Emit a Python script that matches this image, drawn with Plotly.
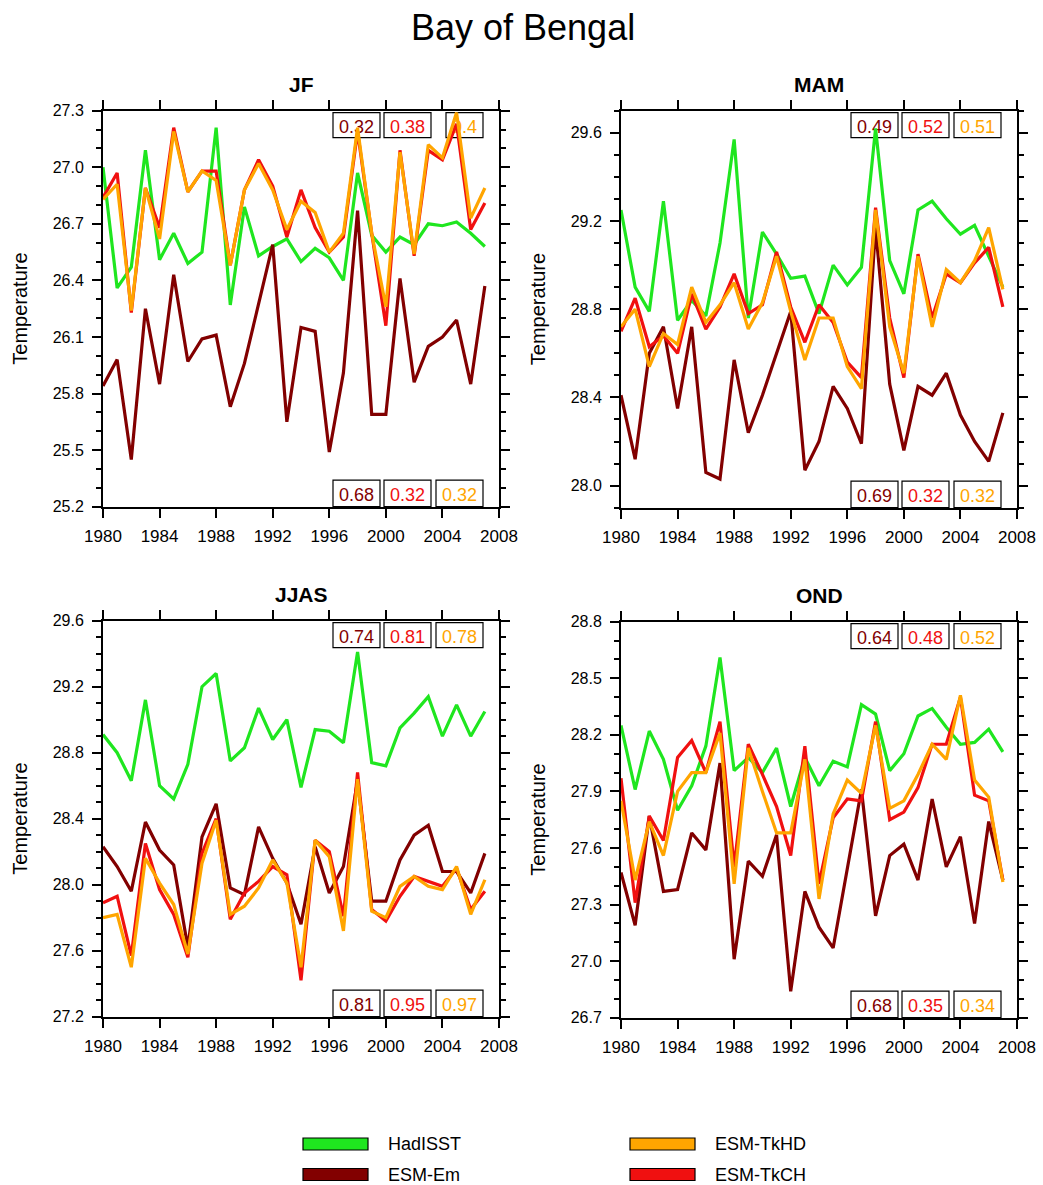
import plotly.graph_objects as go

W, H = 1043, 1185

years = list(range(1980, 2008))
seasons = ["JF", "MAM", "JJAS", "OND"]
series_names = ["HadISST", "ESM-Em", "ESM-TkCH", "ESM-TkHD"]

# ---- JF ----
hadisst_jf = [27.00, 26.36, 26.47, 27.09, 26.51, 26.65, 26.49, 26.55, 27.21, 26.27,
              26.79, 26.53, 26.58, 26.62, 26.50, 26.57, 26.52, 26.40, 26.97, 26.64,
              26.55, 26.63, 26.59, 26.70, 26.69, 26.71, 26.65, 26.58]
em_jf = [25.84, 25.98, 25.45, 26.25, 25.85, 26.43, 25.97, 26.09, 26.11, 25.73,
         25.96, 26.28, 26.59, 25.65, 26.15, 26.13, 25.49, 25.91, 26.77, 25.69,
         25.69, 26.41, 25.86, 26.05, 26.10, 26.19, 25.85, 26.37]
tkch_jf = [26.84, 26.97, 26.23, 26.89, 26.68, 27.21, 26.87, 26.98, 26.98, 26.48,
           26.88, 27.04, 26.90, 26.63, 26.88, 26.68, 26.55, 26.63, 27.19, 26.65,
           26.16, 27.09, 26.53, 27.09, 27.04, 27.23, 26.67, 26.81]
tkhd_jf = [26.83, 26.91, 26.24, 26.89, 26.62, 27.19, 26.87, 26.98, 26.93, 26.48,
           26.88, 27.02, 26.88, 26.67, 26.82, 26.76, 26.55, 26.65, 27.21, 26.65,
           26.26, 27.08, 26.54, 27.12, 27.05, 27.29, 26.73, 26.89]

# ---- MAM ----
hadisst_mam = [29.25, 28.90, 28.79, 29.29, 28.75, 28.84, 28.77, 29.10, 29.57, 28.76,
               29.15, 29.05, 28.94, 28.95, 28.78, 29.00, 28.91, 28.99, 29.62, 29.02,
               28.87, 29.25, 29.29, 29.21, 29.14, 29.18, 29.04, 28.90]
em_mam = [28.41, 28.12, 28.60, 28.72, 28.35, 28.72, 28.06, 28.03, 28.57, 28.24,
          28.41, 28.60, 28.79, 28.07, 28.20, 28.45, 28.35, 28.19, 29.17, 28.46,
          28.16, 28.45, 28.41, 28.51, 28.32, 28.20, 28.11, 28.33]
tkch_mam = [28.70, 28.85, 28.63, 28.68, 28.60, 28.87, 28.71, 28.81, 28.96, 28.78,
            28.82, 29.06, 28.81, 28.65, 28.82, 28.74, 28.56, 28.49, 29.26, 28.76,
            28.49, 29.05, 28.76, 28.96, 28.92, 29.01, 29.08, 28.81]
tkhd_mam = [28.72, 28.80, 28.54, 28.69, 28.64, 28.90, 28.74, 28.82, 28.92, 28.71,
            28.83, 29.04, 28.79, 28.57, 28.76, 28.76, 28.54, 28.44, 29.25, 28.72,
            28.51, 29.04, 28.72, 28.98, 28.92, 29.02, 29.17, 28.89]

# ---- JJAS ----
hadisst_jjas = [28.91, 28.80, 28.63, 29.12, 28.60, 28.52, 28.73, 29.20, 29.28, 28.75,
                28.83, 29.07, 28.88, 29.00, 28.59, 28.94, 28.93, 28.86, 29.41, 28.74,
                28.72, 28.95, 29.04, 29.14, 28.90, 29.09, 28.90, 29.05]
em_jjas = [28.23, 28.11, 27.96, 28.38, 28.21, 28.12, 27.62, 28.29, 28.49, 27.98,
           27.94, 28.35, 28.16, 28.01, 27.76, 28.23, 27.95, 28.11, 28.63, 27.90,
           27.90, 28.15, 28.30, 28.36, 28.08, 28.08, 27.95, 28.19]
tkch_jjas = [27.89, 27.93, 27.57, 28.25, 27.97, 27.82, 27.56, 28.19, 28.40, 27.79,
             27.95, 28.02, 28.11, 28.06, 27.42, 28.27, 28.20, 27.81, 28.68, 27.85,
             27.78, 27.93, 28.05, 28.02, 27.99, 28.10, 27.85, 27.96]
tkhd_jjas = [27.80, 27.82, 27.50, 28.16, 28.01, 27.88, 27.58, 28.13, 28.39, 27.82,
             27.87, 27.98, 28.15, 28.01, 27.50, 28.27, 28.17, 27.72, 28.64, 27.84,
             27.80, 27.99, 28.05, 27.99, 27.97, 28.11, 27.82, 28.03]

# ---- OND ----
hadisst_ond = [28.25, 27.91, 28.22, 28.07, 27.80, 27.93, 28.14, 28.61, 28.01, 28.08,
               28.00, 28.13, 27.82, 28.08, 27.93, 28.06, 28.03, 28.36, 28.31, 28.01,
               28.10, 28.30, 28.34, 28.24, 28.15, 28.16, 28.23, 28.11]
em_ond = [27.47, 27.19, 27.77, 27.37, 27.38, 27.68, 27.59, 28.05, 27.01, 27.53,
          27.45, 27.67, 26.84, 27.37, 27.18, 27.07, 27.49, 27.91, 27.24, 27.56,
          27.62, 27.43, 27.86, 27.50, 27.66, 27.20, 27.74, 27.43]
tkch_ond = [27.97, 27.31, 27.77, 27.64, 28.08, 28.17, 28.00, 28.27, 27.50, 28.15,
            27.99, 27.82, 27.56, 28.14, 27.41, 27.76, 27.86, 27.85, 28.27, 27.75,
            27.79, 27.92, 28.15, 28.15, 28.40, 27.88, 27.85, 27.43]
tkhd_ond = [27.85, 27.43, 27.74, 27.56, 27.90, 28.00, 28.00, 28.21, 27.41, 28.13,
            27.90, 27.68, 27.68, 28.07, 27.33, 27.78, 27.96, 27.89, 28.25, 27.81,
            27.85, 27.99, 28.15, 28.07, 28.41, 27.96, 27.87, 27.42]

# correlation labels (ESM-Em, ESM-TkCH, ESM-TkHD)
corr_top = [["0.32", "0.38", "0.4"], ["0.49", "0.52", "0.51"],
            ["0.74", "0.81", "0.78"], ["0.64", "0.48", "0.52"]]
corr_bottom = [["0.68", "0.32", "0.32"], ["0.69", "0.32", "0.32"],
               ["0.81", "0.95", "0.97"], ["0.68", "0.35", "0.34"]]

# y-axis settings per panel: (min, max, major step, first major)
y_ranges = [(25.2, 27.3, 0.3, 25.2), (27.9, 29.7, 0.4, 28.0),
            (27.2, 29.6, 0.4, 27.2), (26.7, 28.8, 0.3, 26.7)]

data = [
    [hadisst_jf, em_jf, tkch_jf, tkhd_jf],
    [hadisst_mam, em_mam, tkch_mam, tkhd_mam],
    [hadisst_jjas, em_jjas, tkch_jjas, tkhd_jjas],
    [hadisst_ond, em_ond, tkch_ond, tkhd_ond],
]

C_GREEN = "#1fe61f"
C_DARKRED = "#820000"
C_RED = "#f01010"
C_ORANGE = "#ffa500"
colors = [C_GREEN, C_DARKRED, C_RED, C_ORANGE]
corr_colors = [C_DARKRED, C_RED, C_ORANGE]

FONT = "Liberation Sans, Arial, Helvetica, sans-serif"

# panel geometry in pixels (left, top, right, bottom)
panels = [(103, 110.7, 499, 506.7), (621, 110.7, 1017, 507.7),
          (103, 620.7, 499, 1016.7), (621, 621.7, 1017, 1017.7)]

fig = go.Figure()
layout = dict(
    width=W, height=H, margin=dict(l=0, r=0, t=0, b=0, autoexpand=False),
    paper_bgcolor="white", plot_bgcolor="white", showlegend=False,
    font=dict(family=FONT, color="black"),
)
shapes = []
annotations = []

for p in range(4):
    n = p + 1
    xa = "x" if n == 1 else f"x{n}"
    ya = "y" if n == 1 else f"y{n}"
    for s in range(4):
        fig.add_trace(go.Scatter(
            x=years, y=data[p][s], mode="lines", name=series_names[s],
            line=dict(color=colors[s], width=3.2), xaxis=xa, yaxis=ya,
        ))
    l, t, r, b = panels[p]
    ymin, ymax, dt, t0 = y_ranges[p]
    axis_common = dict(
        showline=True, linecolor="black", linewidth=2, mirror="allticks",
        ticks="outside", ticklen=9, tickwidth=2, tickcolor="black",
        showgrid=False, zeroline=False, automargin=False,
    )
    layout["xaxis" if n == 1 else f"xaxis{n}"] = dict(
        domain=[l / W, r / W], anchor=ya, range=[1980, 2008],
        tick0=1980, dtick=4, ticklabelstandoff=4,
        tickfont=dict(size=17, family=FONT, color="black"),
        **axis_common,
    )
    layout["yaxis" if n == 1 else f"yaxis{n}"] = dict(
        domain=[1 - b / H, 1 - t / H], anchor=xa, range=[ymin, ymax],
        tick0=t0, dtick=dt, tickformat=".1f", ticklabelstandoff=5,
        tickfont=dict(size=16, family=FONT, color="black"),
        minor=dict(ticks="outside", ticklen=5, tickwidth=2, tickcolor="black",
                   dtick=0.1, tick0=t0, showgrid=False),
        **axis_common,
    )
    # panel title
    annotations.append(dict(
        text=f"<b>{seasons[p]}</b>", x=(l + r) / 2 / W, y=1 - (t - 26) / H,
        xref="paper", yref="paper", showarrow=False,
        font=dict(size=21, family=FONT, color="black"),
        xanchor="center", yanchor="middle",
    ))
    # y axis label
    annotations.append(dict(
        text="Temperature", x=(l - 83) / W, y=1 - (t + b) / 2 / H,
        xref="paper", yref="paper", showarrow=False, textangle=-90,
        font=dict(size=20, family=FONT, color="black"),
        xanchor="center", yanchor="middle",
    ))
    # correlation boxes
    pw = r - l
    ph = b - t
    right_edges = [277, 328, 380]
    for row, labels in (("top", corr_top[p]), ("bottom", corr_bottom[p])):
        for k, txt in enumerate(labels):
            tw = sum(5 if ch == "." else 10 for ch in txt)
            bw = tw + 12
            x1 = right_edges[k] / pw
            x0 = (right_edges[k] - bw) / pw
            if row == "top":
                y1 = 1 - 2 / ph
                y0 = y1 - 25 / ph
            else:
                y0 = 0.0
                y1 = 26.5 / ph
            shapes.append(dict(
                type="rect", xref=f"{xa} domain", yref=f"{ya} domain",
                x0=x0, x1=x1, y0=y0, y1=y1, layer="below",
                line=dict(color="black", width=1.2), fillcolor="rgba(0,0,0,0)",
                label=dict(text=txt, textposition="middle center",
                           font=dict(size=18, family=FONT, color=corr_colors[k])),
            ))

# main title
annotations.append(dict(
    text="Bay of Bengal", x=523 / W, y=1 - 28 / H, xref="paper", yref="paper",
    showarrow=False, font=dict(size=36, family=FONT, color="black"),
    xanchor="center", yanchor="middle",
))

# legend (manual)
legend_items = [("HadISST", C_GREEN, 303, 1144), ("ESM-Em", C_DARKRED, 303, 1174.5),
                ("ESM-TkHD", C_ORANGE, 630, 1144), ("ESM-TkCH", C_RED, 630, 1174.5)]
for name, col, lx, ly in legend_items:
    shapes.append(dict(
        type="rect", xref="paper", yref="paper",
        x0=lx / W, x1=(lx + 65) / W, y0=1 - (ly + 6) / H, y1=1 - (ly - 6) / H,
        line=dict(color="black", width=1.2), fillcolor=col,
    ))
    annotations.append(dict(
        text=name, x=(lx + 83) / W, y=1 - ly / H, xref="paper", yref="paper",
        showarrow=False, xanchor="left", yanchor="middle",
        font=dict(size=18, family=FONT, color="black"),
    ))

layout["shapes"] = shapes
layout["annotations"] = annotations
fig.update_layout(**layout)
fig.write_html("out.html")
